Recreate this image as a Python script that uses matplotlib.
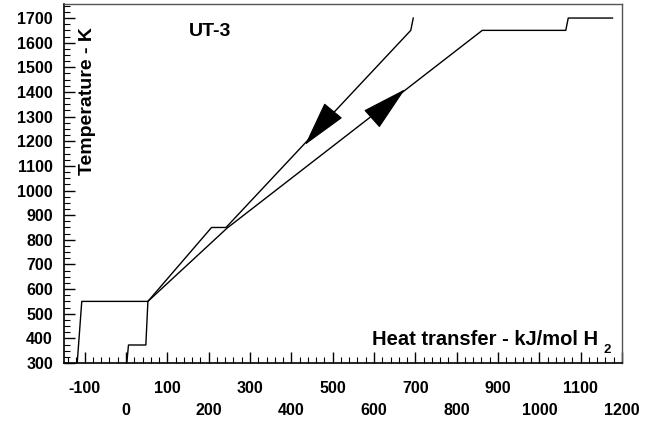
import matplotlib
matplotlib.use('Agg')
import matplotlib.pyplot as plt
from matplotlib.ticker import MultipleLocator

plt.rcParams['font.family'] = ['Liberation Sans', 'DejaVu Sans']
plt.rcParams['font.weight'] = 'bold'

# heating path (arrow pointing up)
heat_q = [2, 6, 48, 53, 245, 862, 1064, 1070, 1177]
heat_t = [300, 373, 373, 550, 848, 1650, 1650, 1700, 1700]
# cooling path (arrow pointing down)
cool_q = [695, 689, 242, 207, 53, -107, -118]
cool_t = [1700, 1650, 850, 850, 550, 550, 300]

# arrow heads: (tail q, tail T, tip q, tip T)
heat_arrow = [597, 1294, 675, 1411]
cool_arrow = [497, 1315, 433, 1185]

x_ticks = list(range(-100, 1201, 100))
x_labels = [str(v) for v in x_ticks]
y_ticks = list(range(300, 1701, 100))

fig = plt.figure(figsize=(6.53, 4.21), dpi=100)
ax = fig.add_axes([0.098, 0.1378, 0.8545, 0.8527])

ax.plot(heat_q, heat_t, color='black', lw=1.0)
ax.plot(cool_q, cool_t, color='black', lw=1.0)

for a in (heat_arrow, cool_arrow):
    ax.annotate('', xy=(a[2], a[3]), xytext=(a[0], a[1]),
                arrowprops=dict(arrowstyle='-|>,head_length=30,head_width=7.7',
                                mutation_scale=1, color='black', lw=0.8,
                                shrinkA=0, shrinkB=0))

ax.set_xlim(-150, 1200)
ax.set_ylim(300, 1757)

ax.set_xticks(x_ticks)
ax.set_xticklabels(x_labels)
ax.set_yticks(y_ticks)
ax.xaxis.set_minor_locator(MultipleLocator(20))
ax.yaxis.set_minor_locator(MultipleLocator(25))
ax.tick_params(which='both', direction='in', top=False, right=False,
               labelsize=11.5)
ax.tick_params(which='major', length=8, width=1)
ax.tick_params(which='minor', length=4.5, width=0.8)
ax.tick_params(axis='y', pad=8)
for v, tick in zip(x_ticks, ax.xaxis.get_major_ticks()):
    tick.set_pad(13 if v % 200 else 28.5)

for s in ('left', 'bottom'):
    ax.spines[s].set_linewidth(1.2)
    ax.spines[s].set_color('black')
for s in ('top', 'right'):
    ax.spines[s].set_linewidth(1.0)
    ax.spines[s].set_color('#555555')

ax.text(0.2625, 0.923, 'UT-3', transform=ax.transAxes, ha='center', va='center',
        fontsize=14, fontweight='bold')
ax.text(0.042, 0.73, 'Temperature - K', transform=ax.transAxes, rotation=90,
        ha='center', va='center', fontsize=14, fontweight='bold')
ax.text(0.957, 0.05, 'Heat transfer - kJ/mol H', transform=ax.transAxes,
        ha='right', va='baseline', fontsize=14.5, fontweight='bold')
ax.text(0.973, 0.028, '2', transform=ax.transAxes, ha='center', va='baseline',
        fontsize=9.5, fontweight='bold')

fig.savefig('out.png', dpi=100)
